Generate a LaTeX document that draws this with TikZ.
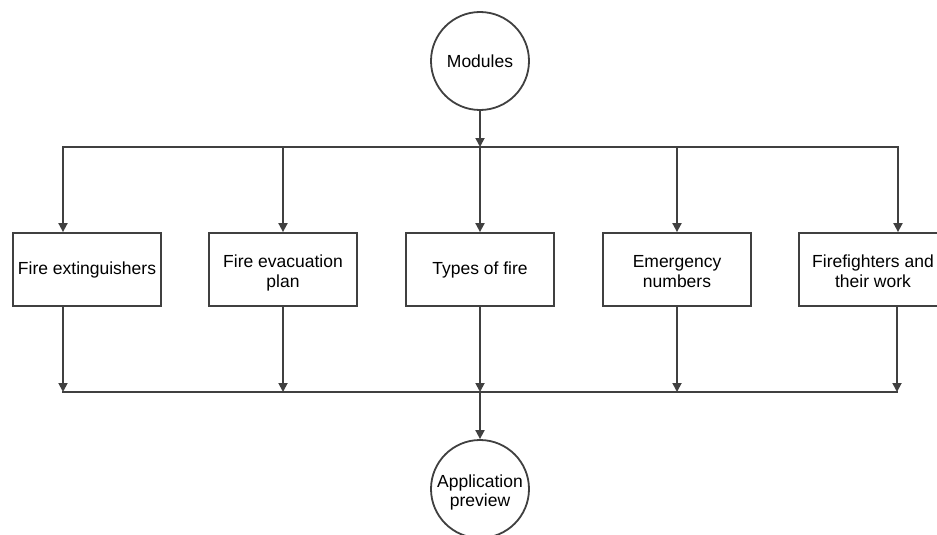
\documentclass[tikz,border=0pt]{standalone}
\usepackage{fontspec}
\setmainfont{Liberation Sans}
\usetikzlibrary{arrows.meta}
\newcommand{\twolines}[2]{\raisebox{-4pt}[\height][\depth]{\begin{tabular}{@{}c@{}}#1\\#2\end{tabular}}}
\begin{document}
\begin{tikzpicture}[x=1pt,y=-1pt,
  conn/.style={draw=black!75, line width=1.8pt},
  arr/.style={conn, -{Triangle[length=9pt,width=9pt]}},
  modbox/.style={conn, fill=white, minimum width=148pt, minimum height=73pt, inner sep=0pt, align=center, font=\fontsize{17.5}{19.5}\selectfont},
  endcirc/.style={conn, fill=white, circle, minimum size=98pt, inner sep=0pt, align=center, font=\fontsize{17.5}{19.5}\selectfont}]
\useasboundingbox (0,0) rectangle (937,535);
\clip (0,0) rectangle (937,535);

% circles
\node[endcirc] (mod) at (480,61) {Modules};
\node[endcirc] (app) at (480,489) {\twolines{Application}{preview}};

% boxes
\node[modbox] (m1) at (87,269.5) {Fire extinguishers};
\node[modbox] (m2) at (283,269.5) {\twolines{Fire evacuation}{plan}};
\node[modbox] (m3) at (480,269.5) {Types of fire};
\node[modbox] (m4) at (677,269.5) {\twolines{Emergency}{numbers}};
\node[modbox] (m5) at (873,269.5) {\twolines{Firefighters and}{their work}};

% bus coordinates
\coordinate (t1) at (63,147);
\coordinate (t2) at (283,147);
\coordinate (tc) at (480,147);
\coordinate (t4) at (677,147);
\coordinate (t5) at (898,147);
\coordinate (b1) at (63,392);
\coordinate (b2) at (283,392);
\coordinate (bc) at (480,392);
\coordinate (b4) at (677,392);
\coordinate (b5) at (897,392);

% top distribution
\draw[arr] (mod) -- (tc);
\draw[conn, line cap=rect] (t1) -- (t5);
\draw[arr] (t1) -- (t1 |- m1.north);
\draw[arr] (t2) -- (m2.north);
\draw[arr] (tc) -- (m3.north);
\draw[arr] (t4) -- (m4.north);
\draw[arr] (t5) -- (t5 |- m5.north);

% bottom collection
\draw[arr] (m1.south -| b1) -- (b1);
\draw[arr] (m2.south) -- (b2);
\draw[arr] (m3.south) -- (bc);
\draw[arr] (m4.south) -- (b4);
\draw[arr] (m5.south -| b5) -- (b5);
\draw[conn, line cap=rect] (b1) -- (b5);
\draw[arr] (bc) -- (app);
\end{tikzpicture}
\end{document}
